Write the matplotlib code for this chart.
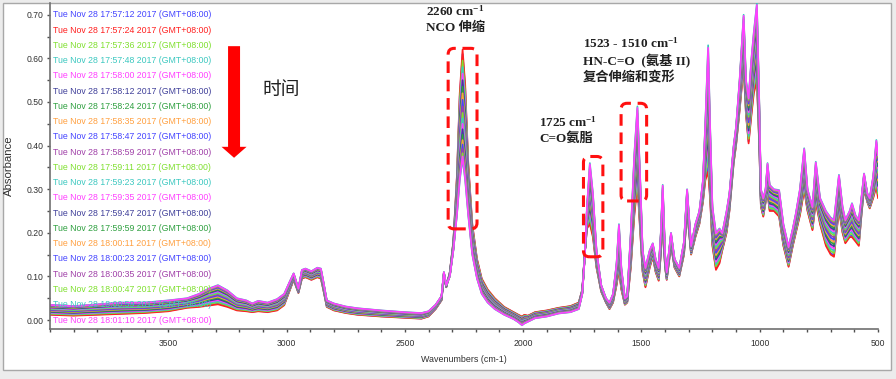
import numpy as np
import matplotlib.pyplot as plt
from matplotlib.patches import FancyArrow, FancyBboxPatch, Rectangle
from matplotlib.transforms import IdentityTransform
from matplotlib.ticker import MultipleLocator

plt.rcParams['font.family'] = ['Liberation Sans', 'Noto Sans CJK SC']
plt.rcParams['mathtext.fontset'] = 'custom'
plt.rcParams['mathtext.rm'] = 'Liberation Serif:bold'
plt.rcParams['mathtext.it'] = 'Liberation Serif:bold'
plt.rcParams['mathtext.bf'] = 'Liberation Serif:bold'

# spectrum: wavenumber, first scan, last scan
wavenumber = [4000, 3900, 3800, 3700, 3600, 3500, 3420, 3370, 3330, 3290, 3250, 3210, 3170,
              3145, 3120, 3080, 3040, 3010, 2985, 2970, 2950, 2935, 2920, 2895, 2870, 2855,
              2845, 2830, 2800, 2750, 2700, 2600, 2500, 2430, 2400, 2370, 2345, 2335, 2325,
              2310, 2295, 2280, 2268, 2256, 2245, 2232, 2215, 2195, 2175, 2150, 2120, 2080,
              2040, 2020, 2005, 1995, 1980, 1950, 1900, 1850, 1800, 1765, 1750, 1740, 1730,
              1718, 1705, 1690, 1670, 1650, 1635, 1620, 1605, 1595, 1585, 1570, 1560, 1545,
              1530, 1517, 1505, 1495, 1483, 1465, 1452, 1440, 1427, 1418, 1410, 1400, 1393,
              1375, 1360, 1340, 1320, 1307, 1290, 1272, 1255, 1240, 1230, 1218, 1210, 1200,
              1185, 1170, 1158, 1140, 1128, 1110, 1100, 1085, 1068, 1058, 1047, 1035, 1025,
              1012, 1002, 995, 985, 975, 967, 958, 940, 918, 900, 878, 860, 847, 830, 812,
              798, 777, 763, 745, 720, 700, 686, 665, 650, 638, 620, 610, 595, 581, 570, 559,
              545, 535, 520, 507, 500]
abs_first = [0.012, 0.010, 0.012, 0.014, 0.016, 0.020, 0.028, 0.030, 0.033, 0.036, 0.030, 0.022, 0.020,
             0.018, 0.020, 0.018, 0.022, 0.034, 0.070, 0.092, 0.062, 0.095, 0.098, 0.092, 0.098, 0.095,
             0.070, 0.030, 0.022, 0.016, 0.012, 0.008, 0.005, 0.003, 0.008, 0.025, 0.045, 0.100, 0.075,
             0.110, 0.180, 0.330, 0.520, 0.620, 0.540, 0.360, 0.220, 0.140, 0.095, 0.070, 0.050, 0.030,
             0.018, 0.012, 0.008, 0.012, 0.010, 0.018, 0.022, 0.028, 0.032, 0.040, 0.070, 0.150, 0.210,
             0.220, 0.190, 0.120, 0.065, 0.040, 0.025, 0.040, 0.080, 0.115, 0.070, 0.035, 0.040, 0.120,
             0.240, 0.310, 0.200, 0.110, 0.075, 0.120, 0.145, 0.110, 0.090, 0.150, 0.220, 0.120, 0.092,
             0.170, 0.120, 0.100, 0.150, 0.250, 0.150, 0.190, 0.220, 0.270, 0.320, 0.340, 0.280, 0.170,
             0.115, 0.130, 0.160, 0.200, 0.250, 0.360, 0.400, 0.480, 0.580, 0.470, 0.405, 0.470, 0.520,
             0.547, 0.400, 0.260, 0.237, 0.270, 0.290, 0.250, 0.250, 0.237, 0.170, 0.122, 0.170, 0.200,
             0.240, 0.298, 0.250, 0.206, 0.270, 0.220, 0.170, 0.150, 0.145, 0.253, 0.200, 0.176, 0.190,
             0.190, 0.180, 0.170, 0.240, 0.300, 0.270, 0.256, 0.280, 0.306, 0.280]
abs_last = [0.035, 0.032, 0.036, 0.040, 0.040, 0.045, 0.050, 0.060, 0.072, 0.080, 0.068, 0.050, 0.045,
            0.038, 0.044, 0.040, 0.048, 0.060, 0.090, 0.107, 0.072, 0.115, 0.118, 0.112, 0.120, 0.118,
            0.090, 0.045, 0.038, 0.031, 0.027, 0.022, 0.018, 0.016, 0.020, 0.035, 0.055, 0.110, 0.080,
            0.100, 0.160, 0.240, 0.320, 0.370, 0.320, 0.240, 0.150, 0.095, 0.060, 0.040, 0.025, 0.012,
            0.002, -0.005, -0.012, -0.008, -0.004, 0.004, 0.008, 0.015, 0.018, 0.025, 0.060, 0.140, 0.260,
            0.360, 0.290, 0.160, 0.080, 0.050, 0.040, 0.060, 0.130, 0.220, 0.120, 0.050, 0.055, 0.200,
            0.380, 0.490, 0.320, 0.160, 0.120, 0.160, 0.176, 0.140, 0.120, 0.200, 0.310, 0.150, 0.110,
            0.200, 0.140, 0.120, 0.180, 0.300, 0.170, 0.220, 0.250, 0.320, 0.450, 0.630, 0.450, 0.260,
            0.200, 0.210, 0.200, 0.250, 0.290, 0.400, 0.443, 0.550, 0.700, 0.550, 0.510, 0.600, 0.660,
            0.726, 0.500, 0.300, 0.280, 0.300, 0.360, 0.310, 0.300, 0.298, 0.220, 0.168, 0.210, 0.245,
            0.300, 0.394, 0.300, 0.260, 0.363, 0.280, 0.250, 0.235, 0.230, 0.333, 0.260, 0.230, 0.250,
            0.268, 0.240, 0.230, 0.280, 0.336, 0.290, 0.280, 0.330, 0.413, 0.380]

scan_times = ['Tue Nov 28 17:57:12 2017 (GMT+08:00)', 'Tue Nov 28 17:57:24 2017 (GMT+08:00)',
              'Tue Nov 28 17:57:36 2017 (GMT+08:00)', 'Tue Nov 28 17:57:48 2017 (GMT+08:00)',
              'Tue Nov 28 17:58:00 2017 (GMT+08:00)', 'Tue Nov 28 17:58:12 2017 (GMT+08:00)',
              'Tue Nov 28 17:58:24 2017 (GMT+08:00)', 'Tue Nov 28 17:58:35 2017 (GMT+08:00)',
              'Tue Nov 28 17:58:47 2017 (GMT+08:00)', 'Tue Nov 28 17:58:59 2017 (GMT+08:00)',
              'Tue Nov 28 17:59:11 2017 (GMT+08:00)', 'Tue Nov 28 17:59:23 2017 (GMT+08:00)',
              'Tue Nov 28 17:59:35 2017 (GMT+08:00)', 'Tue Nov 28 17:59:47 2017 (GMT+08:00)',
              'Tue Nov 28 17:59:59 2017 (GMT+08:00)', 'Tue Nov 28 18:00:11 2017 (GMT+08:00)',
              'Tue Nov 28 18:00:23 2017 (GMT+08:00)', 'Tue Nov 28 18:00:35 2017 (GMT+08:00)',
              'Tue Nov 28 18:00:47 2017 (GMT+08:00)', 'Tue Nov 28 18:00:59 2017 (GMT+08:00)',
              'Tue Nov 28 18:01:10 2017 (GMT+08:00)']
# how far each scan has moved from the first towards the last scan
progress = [0.04, 0.0, 0.10, 0.16, 0.22, 0.28, 0.34, 0.40, 0.46, 0.52, 0.58,
            0.63, 0.68, 0.73, 0.78, 0.83, 0.87, 0.91, 0.95, 1.0, 0.98]
scan_colors = ['#4545ff', '#ff2020', '#80e030', '#3cc8c0', '#ff40ff', '#40409a', '#2fa040',
               '#ffa040', '#4545ff', '#a040a8', '#80e030', '#3cc8c0', '#ff40ff', '#40409a',
               '#2fa040', '#ffa040', '#4545ff', '#a040a8', '#80e030', '#3cc8c0', '#ff40ff']

W, H = 896, 379
fig = plt.figure(figsize=(W / 100, H / 100), dpi=100, facecolor='#ececec')
# white screenshot panel
fig.patches.append(Rectangle((3 / W, 9 / H), 888 / W, 367 / H, transform=fig.transFigure,
                             facecolor='white', edgecolor='#a8a8a8', lw=1, zorder=-5))
ax = fig.add_axes([50 / W, (H - 329) / H, 828 / W, 326 / H])
ax.set_facecolor('none')

wn = np.array(wavenumber)
a0 = np.array(abs_first)
a1 = np.array(abs_last)
for p, c in zip(progress, scan_colors):
    ax.plot(wn, a0 + p * (a1 - a0), color=c, lw=1.25, zorder=2)

ax.set_xlim(4000, 500)
ax.set_ylim(-0.0206, 0.727)
ax.xaxis.set_major_locator(MultipleLocator(500))
ax.xaxis.set_minor_locator(MultipleLocator(100))
ax.yaxis.set_major_locator(MultipleLocator(0.1))
ax.yaxis.set_minor_locator(MultipleLocator(0.05))
ax.yaxis.set_major_formatter(plt.FuncFormatter(lambda v, _: f'{v:.2f}'))
for s in ['top', 'right']:
    ax.spines[s].set_visible(False)
for s in ['left', 'bottom']:
    ax.spines[s].set_color('#707070')
    ax.spines[s].set_linewidth(1.2)
ax.tick_params(axis='both', which='both', direction='out', length=2.3, width=1,
               color='#505050', labelsize=6.2, labelcolor='#303030')
ax.tick_params(axis='x', which='major', pad=4.6)
ax.tick_params(axis='y', which='major', pad=2.6)
ax.set_xticks([3500, 3000, 2500, 2000, 1500, 1000, 500])

fig.text(464 / W, 1 - 360 / H, 'Wavenumbers (cm-1)', ha='center', va='center', size=6.4, color='#303030')
fig.text(9 / W, 1 - 166 / H, 'Absorbance', rotation=90, ha='center', va='center', size=8.2, color='#303030')

# legend with scan times
for i, (t, c) in enumerate(zip(scan_times, scan_colors)):
    ax.text(0.004, 0.70 - i * 0.035, t, color=c, size=6.3, va='center', ha='left',
            transform=ax.get_yaxis_transform(), zorder=5)

# time arrow
ax.add_patch(FancyArrow(3222, 0.628, 0, -0.256, width=50.7, head_width=106, head_length=0.0252,
                        length_includes_head=True, color='#ff0000', lw=0, zorder=5))
fig.text(262 / W, 1 - 90 / H, '时间', size=13.5, va='center', ha='left', color='#202020',
         family=['Noto Sans CJK SC'])

serif_cjk = ['Liberation Serif', 'Noto Sans CJK SC']
notes = [(426, 11, '2260 cm$^{-1}$'), (426, 28, 'NCO 伸缩'),
         (583, 43, '1523 - 1510 cm$^{-1}$'), (583, 61, 'HN-C=O  (氨基 II)'), (583, 78, '复合伸缩和变形'),
         (539, 122, '1725 cm$^{-1}$'), (539, 139, 'C=O氨脂')]
for x, y, s in notes:
    fig.text(x / W, 1 - y / H, s, size=9.5, weight='bold', family=serif_cjk,
             va='center', ha='left', color='#202020')

# dashed highlight boxes (wavenumber left/right, absorbance bottom/top)
boxes = [(2317, 2195, 0.209, 0.623), (1745, 1663, 0.145, 0.375), (1586, 1478, 0.273, 0.497)]
for xl, xr, yb, yt in boxes:
    (px0, py0), (px1, py1) = ax.transData.transform([(xl, yb), (xr, yt)])
    fig.patches.append(FancyBboxPatch((px0, py0), px1 - px0, py1 - py0,
                                      boxstyle='round,pad=0,rounding_size=6',
                                      transform=IdentityTransform(), fill=False,
                                      edgecolor='#ff1010', lw=2.2, linestyle=(0, (3.8, 2.2)),
                                      zorder=6))

fig.savefig('out.png', dpi=100, facecolor=fig.get_facecolor())
